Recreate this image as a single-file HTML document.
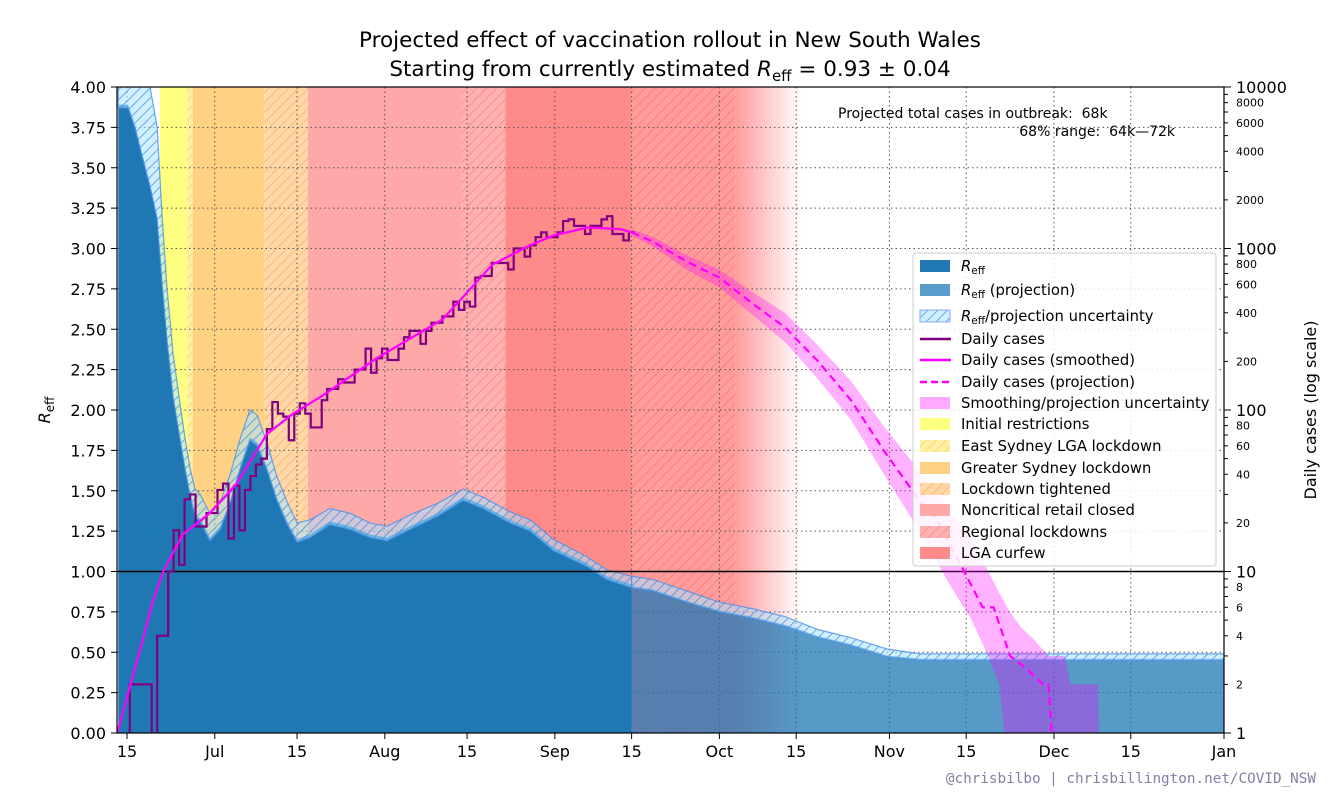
<!DOCTYPE html>
<html><head><meta charset="utf-8"><style>
html,body{margin:0;padding:0;background:#fff;}
svg{display:block;font-family:"DejaVu Sans","Liberation Sans",sans-serif;}
</style></head><body>
<svg id="chart" width="1330" height="798" viewBox="0 0 1330 798" xmlns="http://www.w3.org/2000/svg">
<defs>
<clipPath id="plotclip"><rect x="117" y="87" width="1107" height="646"/></clipPath>
<pattern id="hatchBlue" patternUnits="userSpaceOnUse" width="7" height="7" patternTransform="rotate(45)"><rect width="7" height="7" fill="rgba(170,225,255,0.55)"/><line x1="0" y1="0" x2="0" y2="7" stroke="#3a8ee6" stroke-width="1.4"/></pattern>
<pattern id="hatchYellow" patternUnits="userSpaceOnUse" width="7" height="7" patternTransform="rotate(45)"><rect width="7" height="7" fill="#fff0a8"/><line x1="0" y1="0" x2="0" y2="7" stroke="#ffd860" stroke-width="2"/></pattern>
<pattern id="hatchOrange" patternUnits="userSpaceOnUse" width="7" height="7" patternTransform="rotate(45)"><rect width="7" height="7" fill="#ffd8a8"/><line x1="0" y1="0" x2="0" y2="7" stroke="#ffb878" stroke-width="2"/></pattern>
<pattern id="hatchPink" patternUnits="userSpaceOnUse" width="7" height="7" patternTransform="rotate(45)"><rect width="7" height="7" fill="#ffb0b0"/><line x1="0" y1="0" x2="0" y2="7" stroke="#ff9090" stroke-width="2"/></pattern>
<pattern id="hatchRed" patternUnits="userSpaceOnUse" width="7" height="7" patternTransform="rotate(45)"><rect width="7" height="7" fill="#ff9c9c"/><line x1="0" y1="0" x2="0" y2="7" stroke="#ff8080" stroke-width="2"/></pattern>
<linearGradient id="fadeRed" x1="0" x2="1" y1="0" y2="0"><stop offset="0" stop-color="#ff9c9c"/><stop offset="1" stop-color="#ffffff"/></linearGradient>
</defs>
<g id="bg" clip-path="url(#plotclip)"></g>
<g id="grid"></g>
<g id="marks" clip-path="url(#plotclip)"></g>
<g id="axes"></g>
<text x="670" y="47" font-size="21.5" text-anchor="middle">Projected effect of vaccination rollout in New South Wales</text>
<text x="670" y="76" font-size="21.5" text-anchor="middle">Starting from currently estimated <tspan font-style="italic">R</tspan><tspan font-size="15" dy="5">eff</tspan><tspan dy="-5"> = 0.93 ± 0.04</tspan></text>
<text transform="translate(50,410) rotate(-90)" font-size="16" text-anchor="middle"><tspan font-style="italic">R</tspan><tspan font-size="12" dy="4">eff</tspan></text>
<text transform="translate(1316,410) rotate(-90)" font-size="16" text-anchor="middle">Daily cases (log scale)</text>
<text x="838" y="118" font-size="14" style="white-space:pre" xml:space="preserve">Projected total cases in outbreak:  68k</text>
<text x="1175" y="136" font-size="14" text-anchor="end" style="white-space:pre" xml:space="preserve">68% range:  64k—72k</text>
<text x="1316" y="783" font-size="14.3" text-anchor="end" fill="#8080a8" font-family="'DejaVu Sans Mono','Liberation Mono',monospace">@chrisbilbo | chrisbillington.net/COVID_NSW</text>
<g id="legend"></g>
</svg>
<script>
// ---- data ----
const reffDays = [-1.6,0.2,1.5,2.9,4.2,5.5,6.4,7.3,8.4,9.7,10.6,11.5,12.4,13.3,15.1,17,18.8,20.6,22.4,23.7,25.5,27.3,29.2,31,33.4,37,40.7,44.3,47.4,51.6,56.5,61.3,64.9,69.8,73.5,77.7,83.9,87.5,92];
const reffValues = [3.89,3.89,3.76,3.57,3.40,3.20,2.80,2.45,2.10,1.83,1.65,1.49,1.36,1.33,1.21,1.28,1.44,1.65,1.83,1.80,1.65,1.46,1.31,1.20,1.23,1.31,1.28,1.23,1.21,1.28,1.36,1.46,1.41,1.32,1.27,1.15,1.05,0.97,0.92];
const reffUncert = [0.6,0.6,0.6,0.6,0.6,0.55,0.4,0.3,0.25,0.2,0.17,0.15,0.15,0.15,0.15,0.15,0.16,0.17,0.17,0.17,0.15,0.13,0.12,0.1,0.09,0.08,0.08,0.07,0.07,0.07,0.06,0.05,0.05,0.05,0.05,0.05,0.04,0.04,0.05];
const projReffDays = [92,95.9,102,108,114,120,126,132,138.6,144.6,200.5];
const projReffValues = [0.91,0.89,0.82,0.76,0.72,0.67,0.60,0.55,0.48,0.46,0.46];
const projReffUncert = [0.06,0.06,0.06,0.05,0.05,0.05,0.04,0.04,0.04,0.03,0.03];
const caseStartDay = -2;
const dailyCases = [0,0,0,2,2,2,2,0,4,4,10,18,11,28,30,19,19,23,23,32,35,16,34,18,32,39,46,50,76,112,95,91,65,95,110,95,78,78,115,135,135,155,148,148,178,178,240,170,209,240,204,204,240,282,309,309,257,309,347,347,380,380,468,417,468,437,660,676,676,813,813,813,741,1000,1000,891,1047,1175,1259,1175,1175,1259,1479,1514,1380,1380,1230,1380,1380,1514,1585,1230,1230,1122,1259];
const smoothDays = [-1.8,0.55,2.9,4.7,6.6,10.2,15.1,20,25.5,30.3,35.7,45.5,57.5,66.6,73.5,77.7,84,90,92];
const smoothCases = [1,1.95,3.8,6.5,10,17,23,35,71,95,123,209,363,794,1047,1202,1349,1318,1259];
const projDays = [92,96,102,108,114,120,126,132,138,144,148,152,156,158,161,164,167,168,168.6,169];
const projCases = [1259,1096,832,661,457,324,200,115,56,29,20,11,6,6,3,2.5,2,2,1,0.5];
const bandDays = [92,96,102,108,114,120,126,132,138,144,150,154,157,159,161,163,165,168,171,172,177,177.4];
const bandUpper = [1318,1175,912,741,537,398,251,151,79,44,24,16,10,7.4,5.6,4.5,3.9,3,3,2,2,0.5];
const bandLower = [1202,1023,741,575,389,263,155,87,40,19,8.3,5,3,2,0.5,0.5,0.5,0.5,0.5,0.5,0.5,0.5];
const xTickDays = [0,16,31,47,62,78,92,108,122,139,153,169,183,200];
const xTickLabels = ["15","Jul","15","Aug","15","Sep","15","Oct","15","Nov","15","Dec","15","Jan"];
const yTicks = [0,0.25,0.5,0.75,1,1.25,1.5,1.75,2,2.25,2.5,2.75,3,3.25,3.5,3.75,4];
const bandStart = [6,11,12,25,33,61,69,92];
const bandEnd = [11,12,25,33,61,69,92,111];
const bandFills = ["#ffff80","url(#hatchYellow)","#ffd283","url(#hatchOrange)","#ffa8a8","url(#hatchPink)","#ff8a8a","url(#hatchRed)"];
// ---- scales ----
const X = d => 127 + 5.485*d;
const YR = r => 733 - 161.5*r;
const YC = c => 733 - 161.5*Math.log10(Math.max(c,0.01));
const NS = "http://www.w3.org/2000/svg";
function mk(tag, attrs, parent){const e=document.createElementNS(NS,tag);for(const k in attrs)e.setAttribute(k,attrs[k]);parent.appendChild(e);return e;}
const bg=document.getElementById('bg'), grid=document.getElementById('grid'), marks=document.getElementById('marks'), axes=document.getElementById('axes'), legend=document.getElementById('legend');
for(let i=0;i<bandStart.length;i++){
  const r=mk('rect',{x:X(bandStart[i]),y:87,width:X(bandEnd[i])-X(bandStart[i]),height:646,fill:bandFills[i]},bg);
  
  
}
const fade=mk('rect',{x:X(111),y:87,width:X(123)-X(111),height:646,fill:'url(#fadeRed)'},bg);


xTickDays.forEach(d=>{const l=mk('line',{x1:X(d),x2:X(d),y1:87,y2:733,stroke:'#555','stroke-width':1,'stroke-dasharray':'1.5,3'},grid);

});
yTicks.forEach(r=>{const l=mk('line',{x1:117,x2:1224,y1:YR(r),y2:YR(r),stroke:'#555','stroke-width':1,'stroke-dasharray':'1.5,3'},grid);

});
function areaPath(days, top, bot){let p='';days.forEach((d,i)=>{p+=(i?'L':'M')+X(d)+','+top(i)+' ';});for(let i=days.length-1;i>=0;i--)p+='L'+X(days[i])+','+bot(i)+' ';return p+'Z';}
const rm=mk('path',{d:areaPath(reffDays,i=>YR(reffValues[i]),()=>733),fill:'#1f77b4'},marks);


const ru=mk('path',{d:areaPath(reffDays,i=>YR(reffValues[i]+reffUncert[i]),i=>YR(reffValues[i]-0.02)),fill:'url(#hatchBlue)',stroke:'#4a90e8','stroke-width':1.2,'stroke-opacity':0.8},marks);


const rp=mk('path',{d:areaPath(projReffDays,i=>YR(projReffValues[i]),()=>733),fill:'#1f77b4','fill-opacity':0.75},marks);


const rpu=mk('path',{d:areaPath(projReffDays,i=>YR(projReffValues[i]+projReffUncert[i]),i=>YR(projReffValues[i]-0.01)),fill:'url(#hatchBlue)',stroke:'#4a90e8','stroke-width':1.2,'stroke-opacity':0.8},marks);


const one=mk('line',{x1:117,x2:1224,y1:YR(1),y2:YR(1),stroke:'#000','stroke-width':1.5},marks);


const cb=mk('path',{d:areaPath(bandDays,i=>YC(bandUpper[i]),i=>YC(bandLower[i])),fill:'#ff00ff','fill-opacity':0.3},marks);


let sp='';dailyCases.forEach((c,i)=>{const d=caseStartDay+i;const y=YC(c>0?c:0.3);sp+=(i?'L':'M')+X(d-0.5)+','+y+' L'+X(d+0.5)+','+y+' ';});
const dc=mk('path',{d:sp,fill:'none',stroke:'#800080','stroke-width':2.2},marks);


const sm=mk('path',{d:smoothDays.map((d,i)=>(i?'L':'M')+X(d)+','+YC(smoothCases[i])).join(' '),fill:'none',stroke:'#ff00ff','stroke-width':2.2,'stroke-linejoin':'round'},marks);


const pj=mk('path',{d:projDays.map((d,i)=>(i?'L':'M')+X(d)+','+YC(projCases[i])).join(' '),fill:'none',stroke:'#ff00ff','stroke-width':2.2,'stroke-dasharray':'8,5'},marks);


const fr=mk('rect',{x:117,y:87,width:1107,height:646,fill:'none',stroke:'#000','stroke-width':1.2},axes);


xTickDays.forEach((d,i)=>{mk('line',{x1:X(d),x2:X(d),y1:733,y2:739,stroke:'#000'},axes);
const t=mk('text',{x:X(d),y:757,'font-size':16,'text-anchor':'middle'},axes);t.textContent=xTickLabels[i];

});
yTicks.forEach(r=>{mk('line',{x1:111,x2:117,y1:YR(r),y2:YR(r),stroke:'#000'},axes);
const t=mk('text',{x:106,y:YR(r)+6,'font-size':16,'text-anchor':'end'},axes);t.textContent=r.toFixed(2);

});
for(let e=0;e<=4;e++){const base=Math.pow(10,e);
  mk('line',{x1:1224,x2:1231,y1:YC(base),y2:YC(base),stroke:'#000'},axes);
  const t=mk('text',{x:1236,y:YC(base)+6,'font-size':16},axes);t.textContent=String(base);
  
  
  if(e<4)for(let m=2;m<=9;m++){const v=m*base;mk('line',{x1:1224,x2:1228,y1:YC(v),y2:YC(v),stroke:'#000'},axes);
    if(m%2===0){const s=mk('text',{x:1236,y:YC(v)+4,'font-size':11},axes);s.textContent=String(v);
    
    }}
}
mk('rect',{x:913,y:253,width:303,height:313,rx:3,fill:'#fff','fill-opacity':0.85,stroke:'#ccc'},legend);
const L=[
 ['rect','#1f77b4','R','eff',''],['rect','#5a9ccb','R','eff',' (projection)'],['rect','url(#hatchBlue)','R','eff','/projection uncertainty'],
 ['line','#800080','','','Daily cases'],['line','#ff00ff','','','Daily cases (smoothed)'],['dash','#ff00ff','','','Daily cases (projection)'],
 ['rect','#ffaaff','','','Smoothing/projection uncertainty'],['rect','#ffff80','','','Initial restrictions'],['rect','url(#hatchYellow)','','','East Sydney LGA lockdown'],
 ['rect','#ffd283','','','Greater Sydney lockdown'],['rect','url(#hatchOrange)','','','Lockdown tightened'],['rect','#ffa8a8','','','Noncritical retail closed'],
 ['rect','url(#hatchPink)','','','Regional lockdowns'],['rect','#ff8a8a','','','LGA curfew']];
const LY=[266,290,316,339,360,382,403,424,446,468,489,510,532,553];
L.forEach((e,i)=>{const y=LY[i];
 if(e[0]==='rect')mk('rect',{x:920,y:y-6,width:30,height:12,fill:e[1],stroke:e[1].startsWith('url(#hatchBlue')?'#88aaff':'none'},legend);
 else mk('line',{x1:920,x2:951,y1:y,y2:y,stroke:e[1],'stroke-width':2.5,'stroke-dasharray':e[0]==='dash'?'7,4':'none'},legend);
 const t=mk('text',{x:961,y:y+5,'font-size':14.8},legend);
 
 
 if(e[2]){t.innerHTML='<tspan font-style="italic">R</tspan><tspan font-size="10.5" dy="3">eff</tspan><tspan dy="-3">'+e[4]+'</tspan>';}
 else t.textContent=e[4];});
</script>
</body></html>
